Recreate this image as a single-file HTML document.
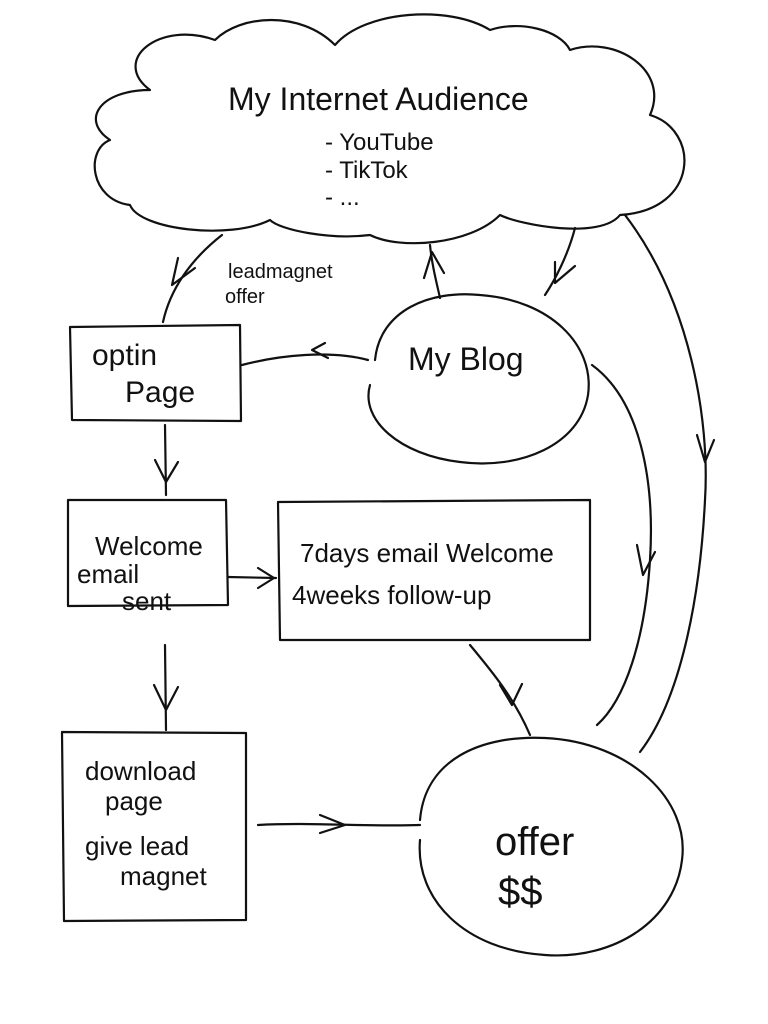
<!DOCTYPE html>
<html><head><meta charset="utf-8"><style>
html,body{margin:0;padding:0;background:#fff;}
svg{display:block;}
text{font-family:"Liberation Sans",sans-serif;fill:#111;}
</style></head><body>
<svg width="768" height="1024" viewBox="0 0 768 1024" xmlns="http://www.w3.org/2000/svg">
<g fill="none" stroke="#111" stroke-width="2.2" stroke-linecap="round" stroke-linejoin="round">
<path d="M150,90 C110,60 160,20 215,40 C240,15 300,10 335,45 C365,10 450,5 490,30 C520,20 560,30 570,50 C615,35 670,70 650,115 C700,130 700,210 620,215 C600,240 520,225 500,215 C470,245 400,250 370,235 C330,240 280,230 270,220 C230,240 140,230 130,205 C90,200 85,150 110,140 C80,120 100,90 150,90 Z"/>
<path d="M70,327 L240,325 L241,421 L72,420 Z"/>
<path d="M68,500 L226,500 L228,605 L68,606 Z"/>
<path d="M278,502 L590,500 L590,640 L280,640 Z"/>
<path d="M62,732 L246,733 L246,920 L64,921 Z"/>
<path d="M375,360 C380,310 430,290 480,295 C550,300 595,345 588,395 C580,445 520,470 460,462 C400,455 360,420 370,385"/>
<path d="M420,820 C425,760 480,735 545,738 C630,742 690,800 682,860 C675,920 615,960 545,955 C465,950 415,900 420,840"/>
<path d="M222,235 C190,260 170,290 163,322"/>
<path d="M178,258 L172,285 L195,268"/>
<path d="M430,245 C432,265 436,280 440,298"/>
<path d="M424,278 L432,252 L444,273"/>
<path d="M575,228 C568,255 555,280 545,295"/>
<path d="M555,262 L555,283 L575,266"/>
<path d="M625,215 C690,300 710,420 705,500 C700,600 680,700 640,752"/>
<path d="M697,435 L705,462 L714,440"/>
<path d="M592,365 C640,400 655,480 650,560 C645,640 625,700 597,725"/>
<path d="M637,545 L643,575 L655,552"/>
<path d="M368,360 C330,350 280,355 242,365"/>
<path d="M325,343 L312,350 L328,358"/>
<path d="M165,425 L166,495"/>
<path d="M155,460 L166,482 L178,462"/>
<path d="M228,577 L276,578"/>
<path d="M258,568 L274,578 L258,588"/>
<path d="M165,645 L166,730"/>
<path d="M154,685 L166,710 L178,687"/>
<path d="M470,645 C495,675 515,700 530,735"/>
<path d="M500,685 L512,705 L522,684"/>
<path d="M258,825 C310,822 370,827 420,825"/>
<path d="M320,815 L345,825 L320,833"/>
</g>
<text x="228" y="110" font-size="32">My Internet Audience</text>
<text x="325" y="150" font-size="24">- YouTube</text>
<text x="325" y="178" font-size="24">- TikTok</text>
<text x="325" y="205" font-size="24">- ...</text>
<text x="228" y="278" font-size="20">leadmagnet</text>
<text x="225" y="303" font-size="20">offer</text>
<text x="92" y="365" font-size="30">optin</text>
<text x="125" y="402" font-size="30">Page</text>
<text x="408" y="370" font-size="32">My Blog</text>
<text x="95" y="555" font-size="26">Welcome</text>
<text x="77" y="583" font-size="26">email</text>
<text x="122" y="610" font-size="26">sent</text>
<text x="300" y="562" font-size="26">7days email Welcome</text>
<text x="292" y="604" font-size="26">4weeks follow-up</text>
<text x="85" y="780" font-size="26">download</text>
<text x="105" y="810" font-size="26">page</text>
<text x="85" y="855" font-size="26">give lead</text>
<text x="120" y="885" font-size="26">magnet</text>
<text x="495" y="855" font-size="40">offer</text>
<text x="498" y="905" font-size="40">$$</text>
</svg>
</body></html>
